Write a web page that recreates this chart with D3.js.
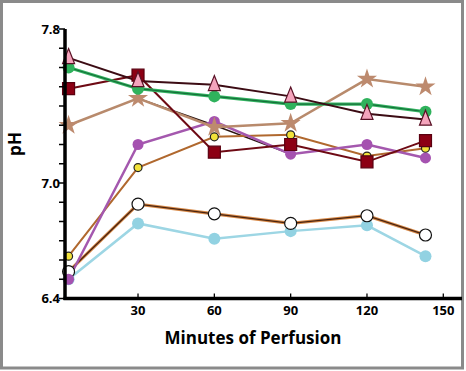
<!DOCTYPE html>
<html>
<head>
<meta charset="utf-8">
<script src="https://cdn.jsdelivr.net/npm/d3@7"></script>
<style>
  body { margin: 0; background: #fff; }
  svg { display: block; font-family: "Open Sans", "DejaVu Sans", sans-serif; }
</style>
</head>
<body>
<div id="chart"></div>
<script>
// sampling times (minutes of perfusion)
const minutes = [2.7, 30, 60, 90, 120, 143];

// pH per group
const triangleSeries = [7.65, 7.53, 7.51, 7.45, 7.36, 7.33];
const greenSeries = [7.60, 7.49, 7.45, 7.41, 7.41, 7.37];
const squareSeries = [7.49, 7.56, 7.16, 7.20, 7.11, 7.22];
const starSeries = [7.30, 7.44, 7.29, 7.31, 7.54, 7.50];
const purpleSeries = [6.50, 7.20, 7.32, 7.15, 7.20, 7.13];
const yellowSeries = [6.62, 7.08, 7.24, 7.25, 7.14, 7.18];
const openSeries = [6.54, 6.89, 6.84, 6.79, 6.83, 6.73];
const blueSeries = [6.50, 6.79, 6.71, 6.75, 6.78, 6.62];
// unmarked dark trace running between the star and purple lines
const traceMinutes = [30, 60, 90];
const traceSeries = [7.44, 7.30, 7.15];

const xTicks = [30, 60, 90, 120, 150];
const yLabels = [6.4, 7.0, 7.8];

const width = 466, height = 371;
const x = d3.scaleLinear().domain([0, 150]).range([61.7, 443.3]);
const y = d3.scaleLinear().domain([6.4, 7.8]).range([298.5, 29]);

const svg = d3.select('#chart').append('svg')
  .attr('width', width)
  .attr('height', height);

// frame
svg.append('rect')
  .attr('x', 1.5).attr('y', 1.5)
  .attr('width', 461).attr('height', 366.5)
  .attr('fill', 'none')
  .attr('stroke', '#8a8a8a')
  .attr('stroke-width', 3);

const line = d3.line().x(d => x(d[0])).y(d => y(d[1]));
const zip = (xs, ys) => xs.map((m, i) => [m, ys[i]]);

const series = [
  { data: blueSeries, line: '#9dd6e4', w: 2.5, marker: 'circle', r: 6, fill: '#92d2e2', stroke: 'none' },
  { data: openSeries, line: '#4a2410', under: '#d88a48', w: 1.3, marker: 'circle', r: 6, fill: '#fff', stroke: '#111' },
  { data: yellowSeries, line: '#b0682e', w: 2, marker: 'circle', r: 4, fill: '#f2e23a', stroke: '#222' },
  { data: purpleSeries, line: '#a458ae', w: 2.5, marker: 'circle', r: 5.5, fill: '#a552b0', stroke: 'none' },
  { data: starSeries, line: '#b88a6c', w: 2.5, marker: 'star', r: 10, fill: '#bd8a6e', stroke: 'none' },
  { data: squareSeries, line: '#6e0a14', w: 2, marker: 'square', r: 12, fill: '#8c0014', stroke: '#5a0010' },
  { data: greenSeries, line: '#16703a', under: '#34b562', w: 1.2, marker: 'circle', r: 6, fill: '#2fb25c', stroke: 'none' },
  { data: triangleSeries, line: '#3c0c14', w: 2, marker: 'triangle', r: 15, fill: '#f4a4bc', stroke: '#5a1226' }
];

// extra dark trace (no markers)
svg.append('path')
  .attr('d', line(zip(traceMinutes, traceSeries)))
  .attr('fill', 'none')
  .attr('stroke', '#2a1410')
  .attr('stroke-width', 1.4);

series.forEach((s) => {
  const pts = zip(minutes, s.data);
  if (s.under) {
    svg.append('path')
      .attr('d', line(pts))
      .attr('fill', 'none')
      .attr('stroke', s.under)
      .attr('stroke-width', 3.2);
  }
  svg.append('path')
    .attr('d', line(pts))
    .attr('fill', 'none')
    .attr('stroke', s.line)
    .attr('stroke-width', s.w);
});

const symbolFor = (s) => {
  if (s.marker === 'star') return d3.symbol(d3.symbolStar, s.r * s.r * 1.25)();
  if (s.marker === 'square') return d3.symbol(d3.symbolSquare, s.r * s.r)();
  if (s.marker === 'triangle') {
    const h = s.r, w = s.r * 0.8;
    return `M0,${-h * 0.62}L${w / 2},${h * 0.38}L${-w / 2},${h * 0.38}Z`;
  }
  return null;
};

series.forEach((s) => {
  const g = svg.append('g');
  const pts = zip(minutes, s.data);
  if (s.marker === 'circle') {
    g.selectAll('circle').data(pts).join('circle')
      .attr('cx', d => x(d[0]))
      .attr('cy', d => y(d[1]))
      .attr('r', s.r)
      .attr('fill', s.fill)
      .attr('stroke', s.stroke)
      .attr('stroke-width', 1.2);
  } else {
    g.selectAll('path').data(pts).join('path')
      .attr('d', symbolFor(s))
      .attr('transform', d => `translate(${x(d[0])},${y(d[1])})`)
      .attr('fill', s.fill)
      .attr('stroke', s.stroke)
      .attr('stroke-width', 1.2);
  }
});

// axes
const x0 = 65;
const yTicks = d3.range(64, 79).map(v => v / 10);
svg.append('g')
  .selectAll('line').data(yTicks).join('line')
  .attr('x1', x0 - 6).attr('x2', x0)
  .attr('y1', d => y(d)).attr('y2', d => y(d))
  .attr('stroke', '#000').attr('stroke-width', 1.5);

svg.append('line')
  .attr('x1', x0).attr('x2', x0)
  .attr('y1', y(7.8)).attr('y2', y(6.4) + 1.5)
  .attr('stroke', '#000').attr('stroke-width', 3.5);

svg.append('g')
  .selectAll('line').data(xTicks).join('line')
  .attr('x1', d => x(d)).attr('x2', d => x(d))
  .attr('y1', y(6.4) - 5).attr('y2', y(6.4))
  .attr('stroke', '#000').attr('stroke-width', 1.3);

svg.append('line')
  .attr('x1', x0 - 1.5).attr('x2', 462)
  .attr('y1', y(6.4)).attr('y2', y(6.4))
  .attr('stroke', '#000').attr('stroke-width', 3.5);

svg.append('g')
  .selectAll('text').data(yLabels).join('text')
  .attr('x', 60)
  .attr('y', d => y(d) + 4.5)
  .attr('text-anchor', 'end')
  .attr('font-size', 13)
  .attr('font-weight', 700)
  .text(d => d.toFixed(1));

svg.append('g')
  .selectAll('text').data(xTicks).join('text')
  .attr('x', d => x(d))
  .attr('y', 315)
  .attr('text-anchor', 'middle')
  .attr('font-size', 13)
  .attr('font-weight', 700)
  .text(d => d);

svg.append('text')
  .attr('x', 253)
  .attr('y', 344)
  .attr('text-anchor', 'middle')
  .attr('font-size', 17)
  .attr('font-weight', 700)
  .text('Minutes of Perfusion');

svg.append('text')
  .attr('transform', 'translate(21,144) rotate(-90)')
  .attr('text-anchor', 'middle')
  .attr('font-size', 17)
  .attr('font-weight', 700)
  .text('pH');
</script>
</body>
</html>
